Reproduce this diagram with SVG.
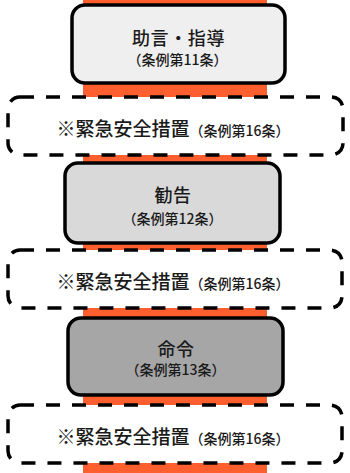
<svg xmlns="http://www.w3.org/2000/svg" width="350" height="473" viewBox="0 0 350 473">
<style>
.band{fill:#FF5F2E}
.step{stroke:#000;stroke-width:3.5}
.opt{fill:#fff;stroke:#000;stroke-width:3.5;stroke-dasharray:14 12}
text{font-family:"Noto Sans CJK JP","Noto Sans CJK SC",sans-serif;fill:#1a1a1a;text-anchor:middle;font-weight:500}
.main{font-size:18px;letter-spacing:0.6px}
.sub{font-size:14px}
.em{font-size:19px}
</style>
<rect width="350" height="473" fill="#fff"/>
<g id="connectors">
<rect class="band" x="83" y="0" width="184" height="473"/>
</g>
<g id="step1">
<rect class="step" x="72" y="5" width="213" height="78" rx="13" fill="#EFEFEF"/>
<text class="main" x="178.5" y="45">助言・指導</text>
<text class="sub" x="177.5" y="65">（条例第11条）</text>
</g>
<g id="emergency1">
<rect class="opt" x="8" y="97" width="335" height="58" rx="12"/>
<text x="173" y="136"><tspan class="em">※緊急安全措置</tspan><tspan class="sub">（条例第16条）</tspan></text>
</g>
<g id="step2">
<rect class="step" x="65" y="163" width="215" height="80" rx="13" fill="#D9D9D9"/>
<text class="main" x="173" y="202">勧告</text>
<text class="sub" x="172.5" y="224">（条例第12条）</text>
</g>
<g id="emergency2">
<rect class="opt" x="8" y="250" width="334" height="58" rx="12"/>
<text x="173" y="289"><tspan class="em">※緊急安全措置</tspan><tspan class="sub">（条例第16条）</tspan></text>
</g>
<g id="step3">
<rect class="step" x="68" y="318" width="215" height="77" rx="13" fill="#A6A6A6"/>
<text class="main" x="176" y="356">命令</text>
<text class="sub" x="175.5" y="375">（条例第13条）</text>
</g>
<g id="emergency3">
<rect class="opt" x="8" y="405" width="334" height="58" rx="12"/>
<text x="173" y="444"><tspan class="em">※緊急安全措置</tspan><tspan class="sub">（条例第16条）</tspan></text>
</g>
</svg>
